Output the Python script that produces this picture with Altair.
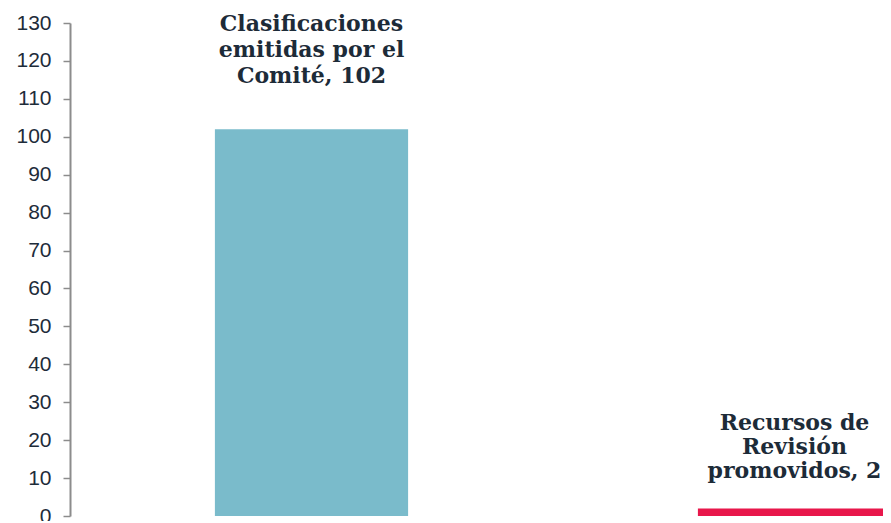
import altair as alt
import pandas as pd

categories = ["Clasificaciones emitidas por el Comité", "Recursos de Revisión promovidos"]
values = [102, 2]
labels = ["Clasificaciones\nemitidas por el\nComité, 102", "Recursos de\nRevisión\npromovidos, 2"]
colors = ["#7ABBCB", "#E8174B"]
y_ticks = list(range(0, 131, 10))

df = pd.DataFrame({"cat": categories, "value": values, "label": labels, "color": colors})

xscale = alt.Scale(range=[0, 966], paddingInner=0.6, paddingOuter=0.3)
yaxis = alt.Axis(values=y_ticks, title=None, grid=False, tickSize=7,
                 tickColor="#8C8C8C", domainColor="#8C8C8C", tickWidth=1.5,
                 domainWidth=2, labelFontSize=21, labelFont="Liberation Sans",
                 labelColor="#1E2C3A", labelPadding=12, labelOverlap=False)
yscale = alt.Scale(domain=[0, 130], nice=False)


def xe():
    return alt.X("cat:N", sort=categories, axis=None, scale=xscale)


def ye():
    return alt.Y("value:Q", scale=yscale, axis=yaxis)


bars = alt.Chart(df).mark_bar(clip=True).encode(
    x=xe(), y=ye(), color=alt.Color("color:N", scale=None)
)

text_style = dict(font="DejaVu Serif", fontWeight="bold", fontSize=22, color="#1D2B38",
                  lineBreak="\n", baseline="alphabetic", align="center")

t1 = alt.Chart(df).transform_filter(alt.datum.value > 50).mark_text(
    dy=-98, lineHeight=26, **text_style).encode(x=xe(), y=ye(), text="label:N")
t2 = alt.Chart(df).transform_filter(alt.datum.value <= 50).mark_text(
    dy=-78, lineHeight=24, **text_style).encode(x=xe(), y=ye(), text="label:N")

chart = alt.layer(bars, t1, t2).properties(
    width=813, height=493,
    autosize=alt.AutoSizeParams(type="none"),
    padding={"left": 62, "top": 15, "right": 0, "bottom": 5},
).configure_view(stroke=None)

chart.save("out.html", embed_options={"renderer": "svg", "actions": False})
